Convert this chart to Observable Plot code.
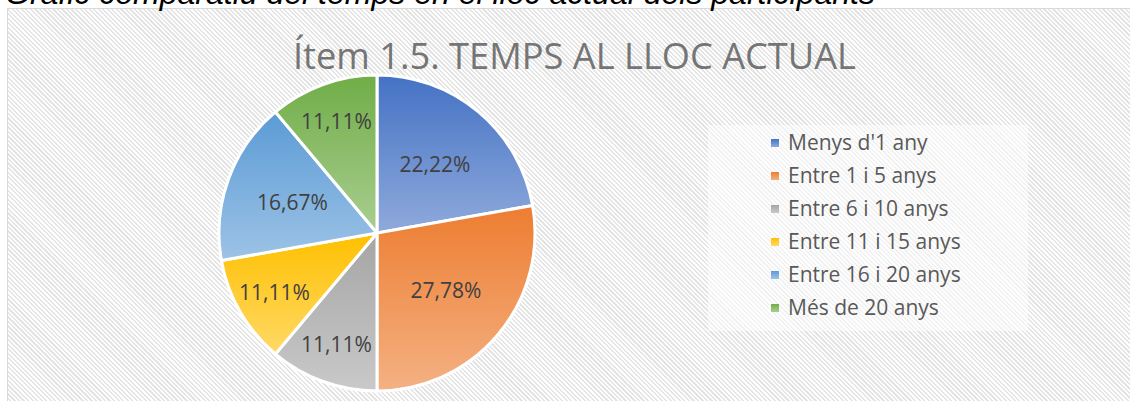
<!DOCTYPE html>
<html>
<head>
<meta charset="utf-8">
<script src="https://cdn.jsdelivr.net/npm/d3@7"></script>
<script src="https://cdn.jsdelivr.net/npm/@observablehq/plot@0.6"></script>
<style>
html, body { margin: 0; padding: 0; background: #fff; width: 1130px; height: 401px; overflow: hidden; }
#wrap { position: relative; width: 1130px; height: 401px; overflow: hidden; }
#frame { position: absolute; left: 7px; top: 8px; width: 1140px; height: 420px; border: 1px solid #d9d9d9;
  background: repeating-linear-gradient(45deg, #ffffff 0px, #ffffff 1.6px, #e4e4e4 1.6px, #e4e4e4 3.2px); }
#chart { position: absolute; left: 0; top: 0; }
#overlay { position: absolute; left: 0; top: 0; }
</style>
</head>
<body>
<div id="wrap">
  <div id="frame"></div>
  <div id="chart"></div>
  <svg id="overlay" width="1130" height="401"></svg>
</div>
<script>
// ---- data ----
const categories = ["Menys d'1 any", "Entre 1 i 5 anys", "Entre 6 i 10 anys", "Entre 11 i 15 anys", "Entre 16 i 20 anys", "Més de 20 anys"];
const percents = [22.22, 27.78, 11.11, 11.11, 16.67, 11.11];
const percentLabels = ["22,22%", "27,78%", "11,11%", "11,11%", "16,67%", "11,11%"];
const colors = ["#4472C4", "#ED7D31", "#A5A5A5", "#FFC000", "#5B9BD5", "#70AD47"];
const chartTitle = "Ítem 1.5. TEMPS AL LLOC ACTUAL";
const captionText = "Gràfic comparatiu del temps en el lloc actual dels participants";

const data = categories.map((c, i) => ({cat: c, value: percents[i], label: percentLabels[i]}));

// ---- layout ----
const W = 1130, H = 401;
const cx = 377, cy = 233, R = 158;
const lighten = c => d3.interpolateRgb(c, "#ffffff")(0.4);

function pieMark(index, scales, values, dimensions, context) {
  const color = scales.color || d3.scaleOrdinal(categories, colors);
  const g = d3.create("svg:g");
  const defs = g.append("defs");
  const arcs = d3.pie().sort(null).value(d => d.value)(data);
  arcs.forEach((a, i) => {
    const base = color(a.data.cat);
    const gr = defs.append("linearGradient").attr("id", "slice" + i)
      .attr("x1", 0).attr("y1", 0).attr("x2", 0).attr("y2", 1);
    gr.append("stop").attr("offset", 0).attr("stop-color", base);
    gr.append("stop").attr("offset", 1).attr("stop-color", lighten(base));
  });
  const arc = d3.arc().innerRadius(0).outerRadius(R);
  const pg = g.append("g").attr("transform", `translate(${cx},${cy})`);
  pg.selectAll("path").data(arcs).join("path")
    .attr("d", arc)
    .attr("fill", (d, i) => `url(#slice${i})`)
    .attr("stroke", "#ffffff").attr("stroke-width", 3).attr("stroke-linejoin", "round");
  const pos = d => {
    const m = (d.startAngle + d.endAngle) / 2;
    const f = (d.endAngle - d.startAngle) < 0.8 ? 0.75 : 0.57;
    return [Math.sin(m) * R * f, -Math.cos(m) * R * f];
  };
  pg.selectAll("text").data(arcs).join("text")
    .attr("x", d => pos(d)[0])
    .attr("y", d => pos(d)[1])
    .attr("dy", "0.36em")
    .attr("text-anchor", "middle")
    .attr("font-family", "'Open Sans', sans-serif")
    .attr("font-size", 21)
    .attr("fill", "#404040")
    .text(d => d.data.label);
  return g.node();
}

const plot = Plot.plot({
  width: W,
  height: H,
  margin: 0,
  style: {background: "transparent", overflow: "visible"},
  x: {axis: null},
  y: {axis: null},
  color: {type: "ordinal", domain: categories, range: colors},
  marks: [
    Plot.dot(data, {fill: "cat", r: 0}),
    pieMark
  ]
});
document.getElementById("chart").appendChild(plot);

// ---- title, caption, legend ----
const ov = d3.select("#overlay");
const colorScale = plot.scale("color");
const cmap = d3.scaleOrdinal(colorScale.domain, colorScale.range);

ov.append("text")
  .attr("x", 5).attr("y", 4)
  .attr("textLength", 870).attr("lengthAdjust", "spacingAndGlyphs")
  .attr("font-family", "'Liberation Sans', Arial, sans-serif")
  .attr("font-style", "italic").attr("font-size", 32).attr("fill", "#000")
  .text(captionText);

ov.append("text")
  .attr("x", 293).attr("y", 69)
  .attr("textLength", 563).attr("lengthAdjust", "spacingAndGlyphs")
  .attr("font-family", "'Open Sans', sans-serif")
  .attr("font-size", 37).attr("fill", "#757575")
  .text(chartTitle);

// legend background
ov.append("rect").attr("x", 708).attr("y", 125).attr("width", 320).attr("height", 206)
  .attr("fill", "#ffffff").attr("fill-opacity", 0.5);

const ldefs = ov.append("defs");
const rowY = i => 143 + i * 33;
colorScale.domain.forEach((c, i) => {
  const base = cmap(c);
  const gr = ldefs.append("linearGradient").attr("id", "leg" + i)
    .attr("x1", 0).attr("y1", 0).attr("x2", 0).attr("y2", 1);
  gr.append("stop").attr("offset", 0).attr("stop-color", base);
  gr.append("stop").attr("offset", 1).attr("stop-color", lighten(base));
  ov.append("rect").attr("x", 771).attr("y", rowY(i) - 4).attr("width", 8).attr("height", 8)
    .attr("fill", `url(#leg${i})`);
  ov.append("text").attr("x", 788).attr("y", rowY(i) + 7)
    .attr("font-family", "'Open Sans', sans-serif").attr("font-size", 21)
    .attr("fill", "#595959").text(c);
});
</script>
</body>
</html>
